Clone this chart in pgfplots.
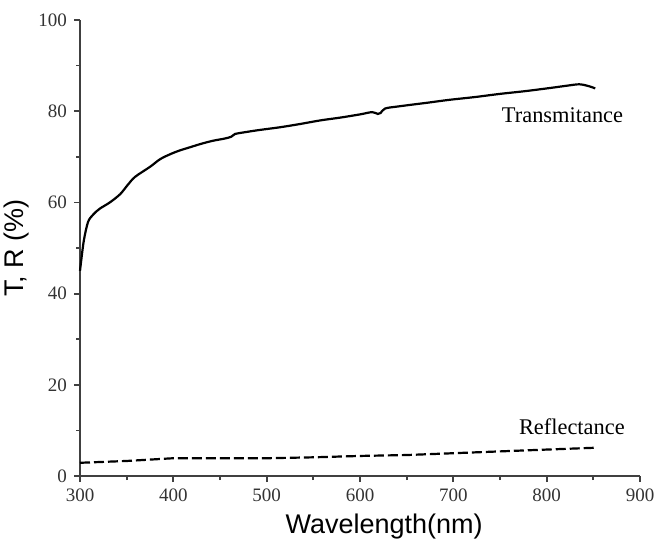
\documentclass[border=0pt]{standalone}
\usepackage{pgfplots}
\pgfplotsset{compat=1.18}
\usepackage{fontspec}
\setmainfont{Liberation Serif}
\newfontfamily\arial{Liberation Sans}
\begin{document}
\begin{tikzpicture}
\begin{axis}[
  name=ax,
  scale only axis,
  width=280pt, height=228pt,
  xmin=300, xmax=900, ymin=0, ymax=100,
  axis lines*=left,
  axis line style={line width=1pt, black!75},
  xtick={300,400,...,900}, ytick={0,20,...,100},
  minor tick num=1,
  tick align=outside,
  major tick length=3pt, minor tick length=2pt,
  tick style={line width=0.9pt, black!75},
  /pgf/number format/assume math mode=true,
  tick label style={font=\fontsize{9.5}{11}\selectfont, black!80},
  xlabel={\arial Wavelength(nm)},
  ylabel={\arial T, R (\%)},
  label style={font=\fontsize{13.5}{15}\selectfont},
  xlabel style={at={(axis description cs:0.543,0)}, anchor=center, yshift=-25.5pt},
  ylabel style={at={(axis description cs:0,0.5)}, anchor=center, yshift=31.5pt},
  clip=false
]
\addplot[black, line width=1.1pt, smooth] coordinates {
 (300,45.0) (304,51.5) (308.6,55.7) (314,57.3) (321,58.6) (332,60.0) (343,61.8)
 (351,63.8) (359,65.6) (375,67.8) (386,69.5) (397,70.6) (407,71.4) (418,72.1)
 (429,72.8) (442,73.5) (455,74.0) (462,74.4) (466,75.0) (480,75.5) (493,75.9)
 (515,76.5) (536,77.2) (558,78.0) (579,78.6) (600,79.3) (613,79.8) (619,79.4)
 (622,79.6) (627,80.6) (643,81.1) (670,81.8) (696,82.5) (723,83.1) (750,83.8)
 (777,84.4) (804,85.1) (822,85.6) (835,85.9) (845,85.5) (852,85.0)
};
\addplot[black, line width=1.1pt, dashed, dash pattern=on 5pt off 2pt] coordinates {
 (300,2.9) (350,3.3) (400,3.9) (450,3.9) (500,3.9) (550,4.1) (600,4.4)
 (650,4.6) (700,5.0) (750,5.4) (800,5.8) (852,6.2)
};
\node[font=\fontsize{11.2}{13}\selectfont] at (axis cs:817,79.2) {Transmitance};
\node[font=\fontsize{11.2}{13}\selectfont] at (axis cs:827,10.8) {Reflectance};
\end{axis}
\pgfresetboundingbox
\path ([xshift=-40pt,yshift=-32.5pt]ax.south west) rectangle ([xshift=7pt,yshift=10pt]ax.north east);
\end{tikzpicture}
\end{document}
